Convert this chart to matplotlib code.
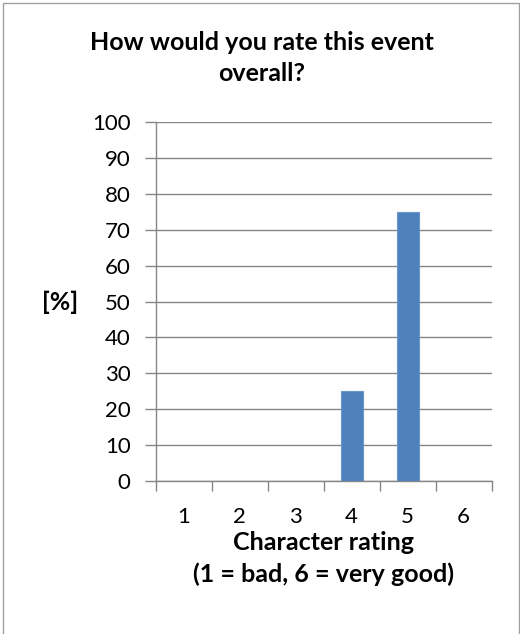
import matplotlib
matplotlib.use("Agg")
import matplotlib.pyplot as plt
from matplotlib.patches import Rectangle

# Survey results
ratings = [1, 2, 3, 4, 5, 6]
rating_labels = ["1", "2", "3", "4", "5", "6"]
percent = [0, 0, 0, 25, 75, 0]
y_ticks = [0, 10, 20, 30, 40, 50, 60, 70, 80, 90, 100]

title_text = "How would you rate this event\noverall?"
x_title = "Character rating\n(1 = bad, 6 = very good)"
y_title = "[%]"

W, H = 520, 634
DPI = 100
plt.rcParams["font.family"] = ["Lato", "DejaVu Sans"]

fig = plt.figure(figsize=(W / DPI, H / DPI), dpi=DPI)
fig.patch.set_facecolor("white")

# chart frame (open at the bottom)
frame = Rectangle((3 / W, -0.05), (W - 4) / W, 1.05 - 3 / H,
                  transform=fig.transFigure, fill=False,
                  edgecolor="#a0a0a0", linewidth=1.0)
fig.patches.append(frame)

left, right = 155.7 / W, 491.7 / W
bottom, top = 1 - 480.7 / H, 1 - 122.3 / H
ax = fig.add_axes([left, bottom, right - left, top - bottom])

grid_col = "#868686"
ax.bar(ratings, percent, width=0.4, color="#4F81BD",
       edgecolor="#6a95c9", linewidth=0.8, zorder=3)

ax.set_xlim(0.5, 6.5)
ax.set_ylim(0, 100)
ax.set_yticks(y_ticks)
ax.set_xticks(ratings)
ax.set_xticklabels(rating_labels)
ax.set_xticks([r - 0.5 for r in ratings] + [6.5], minor=True)

ax.yaxis.grid(True, color=grid_col, linewidth=1.0, zorder=0)
ax.set_axisbelow(True)
for s in ("top", "right"):
    ax.spines[s].set_visible(False)
for s in ("left", "bottom"):
    ax.spines[s].set_color(grid_col)
    ax.spines[s].set_linewidth(1.0)

ax.tick_params(axis="y", direction="out", length=8, width=1.0,
               color=grid_col, labelsize=16, pad=10, labelcolor="black")
ax.tick_params(axis="x", which="major", length=0, labelsize=16, pad=19,
               labelcolor="black")
ax.tick_params(axis="x", which="minor", direction="out", length=7,
               width=1.0, color=grid_col)

ax.set_xlabel(x_title, fontsize=18, fontweight="bold", labelpad=2.5,
              linespacing=1.45)
fig.text(60.5 / W, 1 - 302 / H, y_title, fontsize=18, fontweight="bold",
         ha="center", va="center")
fig.text(262 / W, 1 - 58 / H, title_text, fontsize=18, fontweight="bold",
         ha="center", va="center", linespacing=1.4)

fig.savefig("out.png", dpi=DPI)
